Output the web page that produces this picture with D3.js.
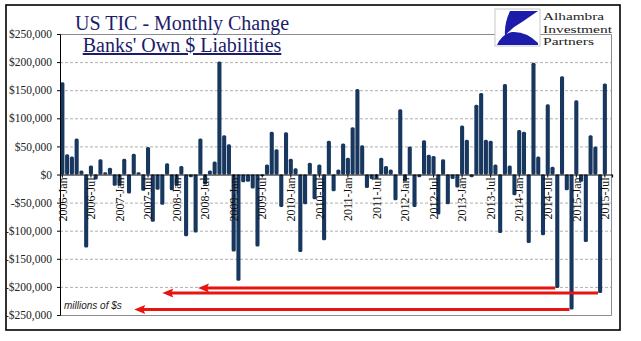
<!DOCTYPE html>
<html>
<head>
<meta charset="utf-8">
<script src="https://cdn.jsdelivr.net/npm/d3@7"></script>
<style>
  body { margin: 0; background: #fff; }
  svg { display: block; }
</style>
</head>
<body>
<div id="chart"></div>
<script>
// monthly change, millions of $, 2006-Jan .. 2015-Jul
const startMonth = new Date(2006, 0, 1);
const endMonth = new Date(2015, 7, 1);
const values = [
  164000, 36000, 32000, 64000, 7000, -130000, 16000, -9000, 27000, 4000, 12000, -20000,
  -20000, 28000, -34000, 37000, 4000, -29000, 49000, -84000, -27000, -54000, 20000, -28000,
  -20000, 15000, -110000, -5000, -103000, 64000, -18000, 7000, 23000, 201000, 70000, 54000,
  -137000, -189000, -14000, -13000, -25000, -128000, -3000, 18000, 76000, 45000, -58000, 75000,
  28000, 11000, -138000, -53000, 21000, -44000, 18000, -117000, 60000, -30000, 9000, 55000,
  30000, 84000, 152000, 52000, -24000, -8000, -8000, 30000, 15000, 9000, -46000, 116000,
  -12000, 50000, -58000, -5000, 61000, 35000, 33000, -71000, 27000, -53000, -8000, -23000,
  87000, 62000, -5000, 124000, 145000, 62000, 60000, 18000, -104000, 161000, 16000, -37000,
  79000, 76000, -122000, 199000, 32000, -108000, 125000, 14000, -202000, 175000, -28000, -240000,
  132000, -13000, -120000, 70000, 50000, -211000, 162000
];
const xTickLabels = [
  '2006-Jan', '2006-Jul', '2007-Jan', '2007-Jul', '2008-Jan', '2008-Jul', '2009-Jan', '2009-Jul',
  '2010-Jan', '2010-Jul', '2011-Jan', '2011-Jul', '2012-Jan', '2012-Jul', '2013-Jan', '2013-Jul',
  '2014-Jan', '2014-Jul', '2015-Jan', '2015-Jul'
];
const yTicks = [-250000, -200000, -150000, -100000, -50000, 0, 50000, 100000, 150000, 200000, 250000];
// red arrows: month the arrow starts at (bar), month position of the arrow tip
const arrowFrom = ['2014-Sep', '2015-Jun', '2014-Dec'];
const arrowTip = [29, 21.5, 15.6];
const logoLines = ['Alhambra', 'Investment', 'Partners'];
const logoWidths = [61, 69, 51];

const width = 641, height = 341;
const plot = { left: 60, right: 612, top: 34, bottom: 315 };
const barColor = '#17375e';
const fmtMonth = d3.timeFormat('%Y-%b');

const months = d3.timeMonth.range(startMonth, d3.timeMonth.offset(endMonth, 1));
const data = months.map((m, i) => ({ key: fmtMonth(m), value: values[i] }));

const svg = d3.select('#chart').append('svg')
  .attr('width', width)
  .attr('height', height);

svg.append('rect')
  .attr('x', 6).attr('y', 5)
  .attr('width', 614).attr('height', 325)
  .attr('fill', '#fff')
  .attr('stroke', '#000')
  .attr('stroke-width', 1.6);

const x = d3.scaleBand()
  .domain(data.map(d => d.key))
  .range([plot.left, plot.right])
  .paddingInner(0.14)
  .paddingOuter(0.07);

const xIdx = d3.scaleLinear()
  .domain([0, data.length])
  .range([plot.left, plot.right]);

const y = d3.scaleLinear()
  .domain([-250000, 250000])
  .range([plot.bottom, plot.top]);

// gridlines
svg.append('g')
  .selectAll('line')
  .data(yTicks.filter(t => t !== 0 && Math.abs(t) !== 250000))
  .join('line')
  .attr('x1', plot.left).attr('x2', plot.right)
  .attr('y1', d => y(d) + 0.5).attr('y2', d => y(d) + 0.5)
  .attr('stroke', '#b0b0b0')
  .attr('stroke-dasharray', '3,2');

// plot frame (grey)
svg.append('path')
  .attr('d', `M${plot.left},${y(250000) + 0.5}H${plot.right - 0.5}V${y(-250000) + 0.5}H${plot.left}`)
  .attr('fill', 'none')
  .attr('stroke', '#8c8c8c')
  .attr('stroke-width', 1);

// bars
svg.append('g')
  .selectAll('rect')
  .data(data)
  .join('rect')
  .attr('x', d => x(d.key))
  .attr('width', x.bandwidth())
  .attr('y', d => y(Math.max(0, d.value)))
  .attr('height', d => Math.max(1, Math.abs(y(d.value) - y(0))))
  .attr('rx', 1.5)
  .attr('fill', barColor);

// y axis
const yAxis = svg.append('g')
  .attr('transform', `translate(${plot.left},0)`)
  .call(d3.axisLeft(y)
    .tickValues(yTicks)
    .tickSize(3)
    .tickPadding(5)
    .tickFormat(d => (d < 0 ? '-$' : '$') + d3.format(',')(Math.abs(d))));
yAxis.select('.domain').attr('stroke', '#000');
yAxis.selectAll('.tick line').attr('stroke', '#000');
yAxis.selectAll('text')
  .attr('font-family', '"Liberation Serif", "Times New Roman", serif')
  .attr('font-size', '11.5px')
  .attr('fill', '#222');

// x axis on zero line
const xAxis = svg.append('g')
  .attr('transform', `translate(0,${y(0)})`)
  .call(d3.axisBottom(x)
    .tickValues(xTickLabels)
    .tickSize(3)
    .tickFormat(d => d));
xAxis.select('.domain').attr('stroke', '#000').attr('stroke-width', 1.2);
xAxis.selectAll('.tick line').attr('stroke', '#000');
xAxis.selectAll('text')
  .attr('font-family', '"Liberation Serif", "Times New Roman", serif')
  .attr('font-size', '12px')
  .attr('fill', '#111')
  .attr('text-anchor', 'end')
  .attr('transform', 'rotate(-90)')
  .attr('x', -3)
  .attr('y', 0)
  .attr('dy', '0.35em');

// red arrows
const arrows = arrowFrom.map((k, i) => ({
  x1: x(k),
  x2: xIdx(arrowTip[i]),
  y: y(data.find(d => d.key === k).value)
}));
const ag = svg.append('g').attr('fill', '#e8140f').attr('stroke', '#e8140f');
ag.selectAll('line')
  .data(arrows)
  .join('line')
  .attr('x1', d => d.x1).attr('x2', d => d.x2 + 8)
  .attr('y1', d => d.y).attr('y2', d => d.y)
  .attr('stroke-width', 3);
ag.selectAll('path')
  .data(arrows)
  .join('path')
  .attr('stroke', 'none')
  .attr('d', d => `M${d.x2},${d.y}L${d.x2 + 11},${d.y - 4.5}L${d.x2 + 9},${d.y}L${d.x2 + 11},${d.y + 4.5}Z`);

// units note
svg.append('text')
  .attr('x', 64).attr('y', 309)
  .attr('font-family', '"Liberation Sans", Arial, sans-serif')
  .attr('font-style', 'italic')
  .attr('font-size', '10px')
  .attr('fill', '#222')
  .text('millions of $s');

// title
const title = svg.append('g')
  .attr('font-family', '"Liberation Serif", "Times New Roman", serif')
  .attr('fill', '#1c1c6b')
  .attr('text-anchor', 'middle');
title.append('text')
  .attr('x', 182).attr('y', 30)
  .attr('font-size', '20px')
  .text('US TIC - Monthly Change');
title.append('text')
  .attr('x', 182).attr('y', 52)
  .attr('font-size', '20px')
  .attr('text-decoration', 'underline')
  .text("Banks' Own $ Liabilities");

// logo
const logo = svg.append('g');
logo.append('rect')
  .attr('x', 495).attr('y', 9)
  .attr('width', 45).attr('height', 37)
  .attr('fill', '#fff')
  .attr('stroke', '#c8c8c8');
logo.append('path')
  .attr('fill', '#1c1caa')
  .attr('d', 'M510,11 L538,11 L522,22 Q511,28 505,36 Q504,24 510,11 Z');
logo.append('path')
  .attr('fill', '#1c1caa')
  .attr('d', 'M497,45 Q502,34 512,32 Q526,31 538,43 L538,45 Z');
const logoText = svg.append('g')
  .attr('font-family', '"Liberation Serif", "Times New Roman", serif')
  .attr('font-size', '11.2px')
  .attr('fill', '#222');
logoLines.forEach((t, i) => {
  logoText.append('text')
    .attr('x', 543).attr('y', 20 + i * 12.5)
    .attr('textLength', logoWidths[i])
    .attr('lengthAdjust', 'spacingAndGlyphs')
    .text(t);
});
</script>
</body>
</html>
